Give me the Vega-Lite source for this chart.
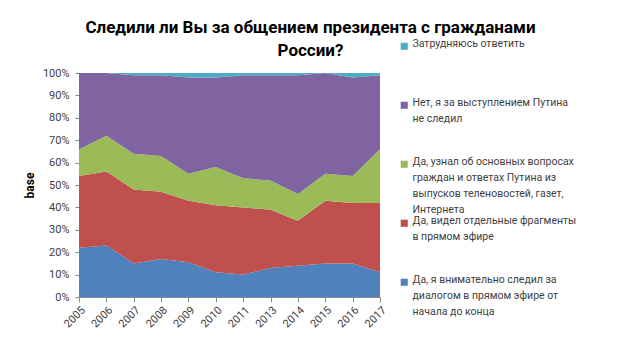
{
  "$schema": "https://vega.github.io/schema/vega-lite/v6.json",
  "width": 301,
  "height": 224,
  "autosize": {"type": "none"},
  "padding": {"left": 79, "top": 73, "right": 244, "bottom": 47},
  "background": "white",
  "config": {"view": {"stroke": null}, "font": "Roboto"},
  "title": {
    "text": ["Следили ли Вы за общением президента с гражданами", "России?"],
    "font": "Roboto",
    "fontSize": 17,
    "fontWeight": "bold",
    "color": "#000000",
    "anchor": "middle",
    "dx": 81,
    "offset": -19,
    "lineHeight": 23
  },
  "data": {
    "values": [
      {"year": "2005", "cat": "Да, я внимательно следил за диалогом в прямом эфире от начала до конца", "k": 1, "v": 22},
      {"year": "2005", "cat": "Да, видел отдельные фрагменты в прямом эфире", "k": 2, "v": 32},
      {"year": "2005", "cat": "Да, узнал об основных вопросах граждан и ответах Путина из выпусков теленовостей,  газет, Интернета", "k": 3, "v": 12},
      {"year": "2005", "cat": "Нет, я за выступлением Путина не следил", "k": 4, "v": 34},
      {"year": "2005", "cat": "Затрудняюсь ответить", "k": 5, "v": 0},
      {"year": "2006", "cat": "Да, я внимательно следил за диалогом в прямом эфире от начала до конца", "k": 1, "v": 23},
      {"year": "2006", "cat": "Да, видел отдельные фрагменты в прямом эфире", "k": 2, "v": 33},
      {"year": "2006", "cat": "Да, узнал об основных вопросах граждан и ответах Путина из выпусков теленовостей,  газет, Интернета", "k": 3, "v": 16},
      {"year": "2006", "cat": "Нет, я за выступлением Путина не следил", "k": 4, "v": 28},
      {"year": "2006", "cat": "Затрудняюсь ответить", "k": 5, "v": 0},
      {"year": "2007", "cat": "Да, я внимательно следил за диалогом в прямом эфире от начала до конца", "k": 1, "v": 15},
      {"year": "2007", "cat": "Да, видел отдельные фрагменты в прямом эфире", "k": 2, "v": 33},
      {"year": "2007", "cat": "Да, узнал об основных вопросах граждан и ответах Путина из выпусков теленовостей,  газет, Интернета", "k": 3, "v": 16},
      {"year": "2007", "cat": "Нет, я за выступлением Путина не следил", "k": 4, "v": 35},
      {"year": "2007", "cat": "Затрудняюсь ответить", "k": 5, "v": 1},
      {"year": "2008", "cat": "Да, я внимательно следил за диалогом в прямом эфире от начала до конца", "k": 1, "v": 17},
      {"year": "2008", "cat": "Да, видел отдельные фрагменты в прямом эфире", "k": 2, "v": 30},
      {"year": "2008", "cat": "Да, узнал об основных вопросах граждан и ответах Путина из выпусков теленовостей,  газет, Интернета", "k": 3, "v": 16},
      {"year": "2008", "cat": "Нет, я за выступлением Путина не следил", "k": 4, "v": 36},
      {"year": "2008", "cat": "Затрудняюсь ответить", "k": 5, "v": 1},
      {"year": "2009", "cat": "Да, я внимательно следил за диалогом в прямом эфире от начала до конца", "k": 1, "v": 15.5},
      {"year": "2009", "cat": "Да, видел отдельные фрагменты в прямом эфире", "k": 2, "v": 27.5},
      {"year": "2009", "cat": "Да, узнал об основных вопросах граждан и ответах Путина из выпусков теленовостей,  газет, Интернета", "k": 3, "v": 12},
      {"year": "2009", "cat": "Нет, я за выступлением Путина не следил", "k": 4, "v": 43},
      {"year": "2009", "cat": "Затрудняюсь ответить", "k": 5, "v": 2},
      {"year": "2010", "cat": "Да, я внимательно следил за диалогом в прямом эфире от начала до конца", "k": 1, "v": 11},
      {"year": "2010", "cat": "Да, видел отдельные фрагменты в прямом эфире", "k": 2, "v": 30},
      {"year": "2010", "cat": "Да, узнал об основных вопросах граждан и ответах Путина из выпусков теленовостей,  газет, Интернета", "k": 3, "v": 17},
      {"year": "2010", "cat": "Нет, я за выступлением Путина не следил", "k": 4, "v": 40},
      {"year": "2010", "cat": "Затрудняюсь ответить", "k": 5, "v": 2},
      {"year": "2011", "cat": "Да, я внимательно следил за диалогом в прямом эфире от начала до конца", "k": 1, "v": 10},
      {"year": "2011", "cat": "Да, видел отдельные фрагменты в прямом эфире", "k": 2, "v": 30},
      {"year": "2011", "cat": "Да, узнал об основных вопросах граждан и ответах Путина из выпусков теленовостей,  газет, Интернета", "k": 3, "v": 13},
      {"year": "2011", "cat": "Нет, я за выступлением Путина не следил", "k": 4, "v": 46},
      {"year": "2011", "cat": "Затрудняюсь ответить", "k": 5, "v": 1},
      {"year": "2013", "cat": "Да, я внимательно следил за диалогом в прямом эфире от начала до конца", "k": 1, "v": 13},
      {"year": "2013", "cat": "Да, видел отдельные фрагменты в прямом эфире", "k": 2, "v": 26},
      {"year": "2013", "cat": "Да, узнал об основных вопросах граждан и ответах Путина из выпусков теленовостей,  газет, Интернета", "k": 3, "v": 13},
      {"year": "2013", "cat": "Нет, я за выступлением Путина не следил", "k": 4, "v": 47},
      {"year": "2013", "cat": "Затрудняюсь ответить", "k": 5, "v": 1},
      {"year": "2014", "cat": "Да, я внимательно следил за диалогом в прямом эфире от начала до конца", "k": 1, "v": 14},
      {"year": "2014", "cat": "Да, видел отдельные фрагменты в прямом эфире", "k": 2, "v": 20},
      {"year": "2014", "cat": "Да, узнал об основных вопросах граждан и ответах Путина из выпусков теленовостей,  газет, Интернета", "k": 3, "v": 12},
      {"year": "2014", "cat": "Нет, я за выступлением Путина не следил", "k": 4, "v": 53},
      {"year": "2014", "cat": "Затрудняюсь ответить", "k": 5, "v": 1},
      {"year": "2015", "cat": "Да, я внимательно следил за диалогом в прямом эфире от начала до конца", "k": 1, "v": 15},
      {"year": "2015", "cat": "Да, видел отдельные фрагменты в прямом эфире", "k": 2, "v": 28},
      {"year": "2015", "cat": "Да, узнал об основных вопросах граждан и ответах Путина из выпусков теленовостей,  газет, Интернета", "k": 3, "v": 12},
      {"year": "2015", "cat": "Нет, я за выступлением Путина не следил", "k": 4, "v": 45},
      {"year": "2015", "cat": "Затрудняюсь ответить", "k": 5, "v": 0},
      {"year": "2016", "cat": "Да, я внимательно следил за диалогом в прямом эфире от начала до конца", "k": 1, "v": 15},
      {"year": "2016", "cat": "Да, видел отдельные фрагменты в прямом эфире", "k": 2, "v": 27},
      {"year": "2016", "cat": "Да, узнал об основных вопросах граждан и ответах Путина из выпусков теленовостей,  газет, Интернета", "k": 3, "v": 12},
      {"year": "2016", "cat": "Нет, я за выступлением Путина не следил", "k": 4, "v": 44},
      {"year": "2016", "cat": "Затрудняюсь ответить", "k": 5, "v": 2},
      {"year": "2017", "cat": "Да, я внимательно следил за диалогом в прямом эфире от начала до конца", "k": 1, "v": 11},
      {"year": "2017", "cat": "Да, видел отдельные фрагменты в прямом эфире", "k": 2, "v": 31},
      {"year": "2017", "cat": "Да, узнал об основных вопросах граждан и ответах Путина из выпусков теленовостей,  газет, Интернета", "k": 3, "v": 24},
      {"year": "2017", "cat": "Нет, я за выступлением Путина не следил", "k": 4, "v": 33},
      {"year": "2017", "cat": "Затрудняюсь ответить", "k": 5, "v": 1}
    ]
  },
  "mark": {"type": "area", "interpolate": "linear"},
  "encoding": {
    "x": {
      "field": "year",
      "type": "ordinal",
      "scale": {"padding": 0},
      "axis": {
        "title": null,
        "labelAngle": -45,
        "labelFontSize": 11,
        "labelColor": "#404040",
        "labelPadding": 2,
        "domainColor": "#868686",
        "tickColor": "#868686",
        "tickSize": 5
      }
    },
    "y": {
      "field": "v",
      "type": "quantitative",
      "stack": "normalize",
      "axis": {
        "title": "base",
        "titleFontSize": 12,
        "titleFontWeight": "bold",
        "titleColor": "#000000",
        "titlePadding": 6,
        "format": ".0%",
        "values": [0, 0.1, 0.2, 0.3, 0.4, 0.5, 0.6, 0.7, 0.8, 0.9, 1],
        "grid": false,
        "labelFontSize": 11,
        "labelColor": "#404040",
        "labelPadding": 6,
        "domainColor": "#868686",
        "tickColor": "#868686",
        "tickSize": 4
      }
    },
    "color": {
      "field": "cat",
      "type": "nominal",
      "scale": {
        "domain": [
          "Затрудняюсь ответить",
          "Нет, я за выступлением Путина не следил",
          "Да, узнал об основных вопросах граждан и ответах Путина из выпусков теленовостей,  газет, Интернета",
          "Да, видел отдельные фрагменты в прямом эфире",
          "Да, я внимательно следил за диалогом в прямом эфире от начала до конца"
        ],
        "range": ["#4BACC6", "#8064A2", "#9BBB59", "#C0504D", "#4F81BD"]
      },
      "legend": {
        "title": null,
        "orient": "none",
        "legendX": 320,
        "legendY": -32,
        "symbolType": "square",
        "symbolSize": 50,
        "symbolStrokeWidth": 0,
        "labelFontSize": 10.5,
        "labelColor": "#404040",
        "labelLimit": 400,
        "labelOffset": 3,
        "labelBaseline": "top",
        "gridAlign": "each",
        "rowPadding": 0,
        "labelExpr": "datum.label == 'Нет, я за выступлением Путина не следил' ? ['Нет, я за выступлением Путина', 'не следил', '', ''] : datum.label == 'Да, видел отдельные фрагменты в прямом эфире' ? ['Да, видел отдельные фрагменты', 'в прямом эфире', '', ''] : datum.label == 'Затрудняюсь ответить' ? ['Затрудняюсь ответить', '', '', ''] : datum.label == 'Да, я внимательно следил за диалогом в прямом эфире от начала до конца' ? ['Да, я внимательно следил за', 'диалогом в прямом эфире от', 'начала до конца', ''] : ['Да, узнал об основных вопросах', 'граждан и ответах Путина из', 'выпусков теленовостей,  газет,', 'Интернета']",
        "encode": {"labels": {"update": {"dy": {"value": -7}, "lineHeight": {"value": 16}}}}
      }
    },
    "order": {"field": "k"}
  }
}
